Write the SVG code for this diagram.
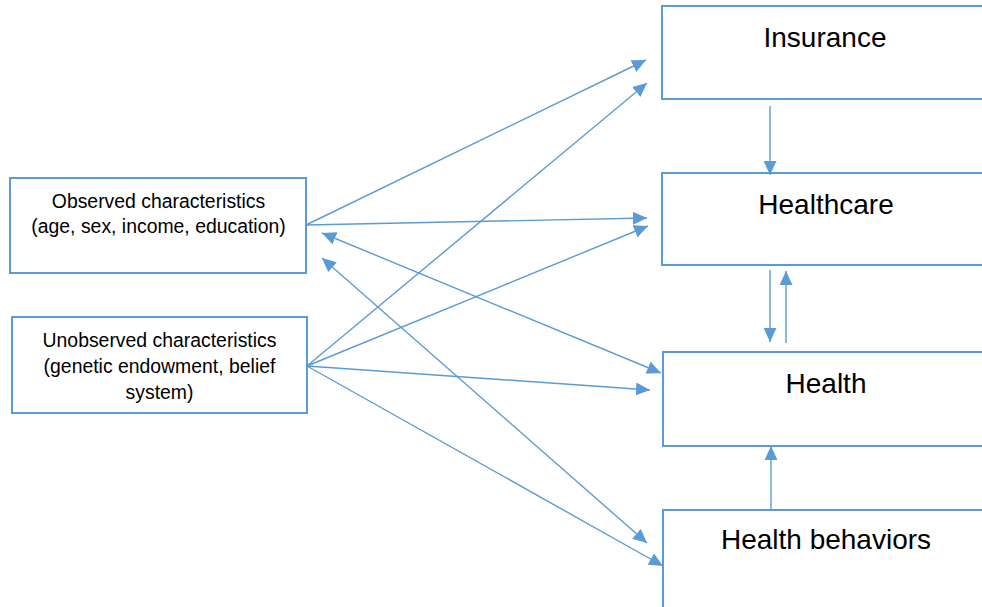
<svg xmlns="http://www.w3.org/2000/svg" width="982" height="607" viewBox="0 0 982 607">
<defs>
<marker id="ah" viewBox="0 0 14 13" refX="14" refY="6.5" markerWidth="14" markerHeight="13" markerUnits="userSpaceOnUse" orient="auto-start-reverse">
<path d="M0,0 L14,6.5 L0,13 z" fill="#5B9BD5"/>
</marker>
</defs>
<style>
.box{fill:#fff;stroke:#5B9BD5;stroke-width:2}
.big{font-family:"Liberation Sans",Arial,sans-serif;font-size:28px;fill:#000;text-anchor:middle}
.sm{font-family:"Liberation Sans",Arial,sans-serif;font-size:19.4px;fill:#000;text-anchor:middle}
.c{fill:none;stroke:#5B9BD5;stroke-width:1.4;marker-end:url(#ah)}
.d{marker-start:url(#ah)}
</style>
<rect width="982" height="607" fill="#fff"/>
<g id="observed">
<rect class="box" x="10" y="178" width="296" height="95"/>
<text class="sm" x="158.5" y="208">Observed characteristics</text>
<text class="sm" x="158.5" y="233">(age, sex, income, education)</text>
</g>
<g id="unobserved">
<rect class="box" x="12" y="317" width="295" height="96"/>
<text class="sm" x="159.5" y="347">Unobserved characteristics</text>
<text class="sm" x="159.5" y="373">(genetic endowment, belief</text>
<text class="sm" x="159.5" y="399">system)</text>
</g>
<g id="insurance">
<rect class="box" x="662" y="6" width="340" height="93"/>
<text class="big" x="825" y="47">Insurance</text>
</g>
<g id="healthcare">
<rect class="box" x="662" y="173" width="340" height="92"/>
<text class="big" x="826" y="214">Healthcare</text>
</g>
<g id="health">
<rect class="box" x="663" y="352" width="340" height="94"/>
<text class="big" x="826" y="393">Health</text>
</g>
<g id="behaviors">
<rect class="box" x="663" y="510" width="340" height="110"/>
<text class="big" x="826" y="549">Health behaviors</text>
</g>
<g id="connectors">
<line class="c" x1="306" y1="225" x2="646" y2="60"/>
<line class="c" x1="307" y1="366" x2="647" y2="83"/>
<line class="c" x1="306" y1="225" x2="647" y2="218"/>
<line class="c" x1="307" y1="366" x2="648" y2="226"/>
<line class="c d" x1="322" y1="233" x2="661" y2="373"/>
<line class="c d" x1="322" y1="258" x2="647" y2="543"/>
<line class="c" x1="307" y1="366" x2="650" y2="390"/>
<line class="c" x1="307" y1="366" x2="663" y2="566"/>
<line class="c" x1="770" y1="106" x2="770" y2="175"/>
<line class="c" x1="770" y1="270" x2="770" y2="342"/>
<line class="c" x1="786" y1="343" x2="786" y2="271"/>
<line class="c" x1="771" y1="510" x2="771" y2="446"/>
</g>
</svg>
